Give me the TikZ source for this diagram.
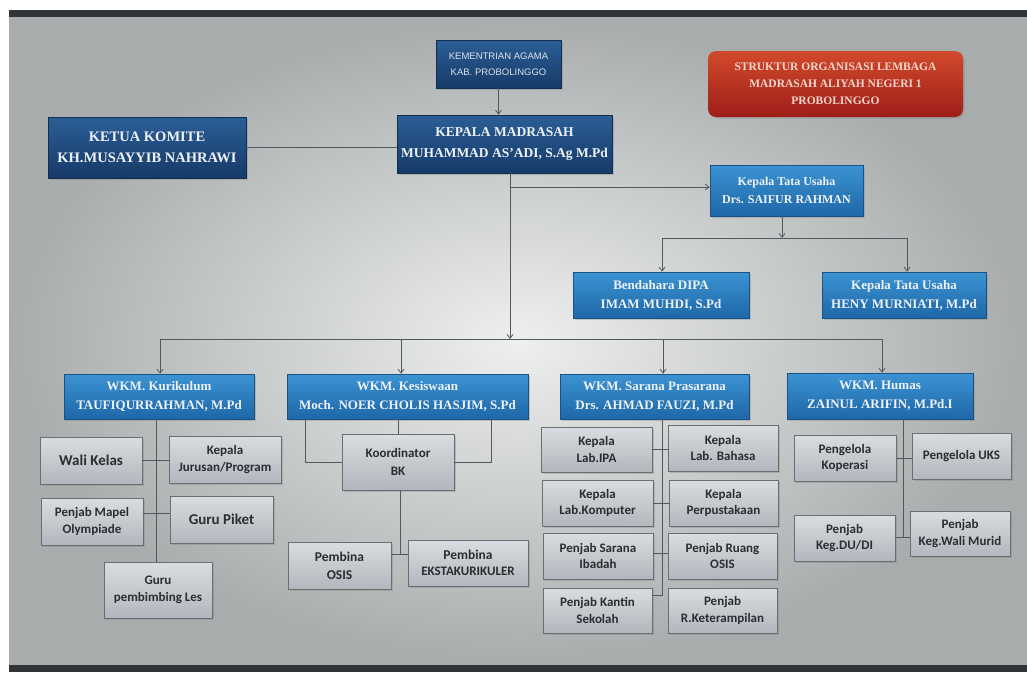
\documentclass[tikz,border=0pt]{standalone}
\usepackage{fontspec}
\setmainfont{Liberation Serif}
\newfontfamily\carl{Carlito}
\newfontfamily\lsans{Liberation Sans}
\usetikzlibrary{arrows.meta,shadows}
\definecolor{navyT}{HTML}{2B5E96}
\definecolor{navyB}{HTML}{163A68}
\definecolor{blueT}{HTML}{3C93D2}
\definecolor{blueB}{HTML}{1E67A8}
\definecolor{greyT}{HTML}{D9DCE0}
\definecolor{greyB}{HTML}{B3B7BD}
\definecolor{greyD}{HTML}{6A6E73}
\definecolor{redT}{HTML}{D24A2C}
\definecolor{redB}{HTML}{9E1E18}
\definecolor{lineC}{HTML}{54585C}
\definecolor{txtW}{HTML}{EEF2F7}
\definecolor{txtR}{HTML}{F2D6CC}
\definecolor{txtG}{HTML}{2A2E32}
\definecolor{bgIn}{HTML}{EEF0EF}
\definecolor{bgOut}{HTML}{A8ACAC}
\definecolor{frameC}{HTML}{303436}
\tikzset{
  boxbase/.style={inner sep=0pt, align=center,
    drop shadow={shadow xshift=1.5pt,shadow yshift=-1.5pt,opacity=.35}},
  navybox/.style={boxbase, top color=navyT, bottom color=navyB, draw=navyB!80!black, line width=.6pt,
    text=txtW, font=\bfseries\fontsize{14.5}{21}\selectfont},
  bluebox/.style={boxbase, top color=blueT, bottom color=blueB, draw=blueB!80!black, line width=.6pt,
    text=txtW, font=\bfseries\fontsize{13}{19}\selectfont},
  greybox/.style={boxbase, top color=greyT, bottom color=greyB, draw=greyD, line width=.8pt,
    text=txtG, font=\carl\bfseries\fontsize{13}{16.5}\selectfont},
  redbox/.style={boxbase, rounded corners=8pt, top color=redT, bottom color=redB, draw=none,
    text=txtR, font=\bfseries\fontsize{11.5}{17}\selectfont},
  conn/.style={draw=lineC, line width=.8pt},
  arr/.style={conn, -{Straight Barb[length=4pt,width=6pt]}},
}
\begin{document}
\begin{tikzpicture}[x=1pt,y=-1pt]
\useasboundingbox (0,0) rectangle (1027,672);
% background (photo of a screen)
\fill[white] (0,0) rectangle (1027,672);
\fill[frameC] (9,10) rectangle (1027,672);
\shade[inner color=bgIn, outer color=bgOut] (9,17) rectangle (1027,664);

% top level
\node[navybox, minimum width=125pt, minimum height=48pt, font=\lsans\fontsize{9.5}{16}\selectfont, text=txtW!85!gray]
  (kem) at (498.5,64) {KEMENTRIAN AGAMA\\KAB. PROBOLINGGO};
\node[redbox, minimum width=255pt, minimum height=66pt] (title) at (835.5,84)
  {STRUKTUR ORGANISASI LEMBAGA\\MADRASAH ALIYAH NEGERI 1\\PROBOLINGGO};
\node[navybox, minimum width=198pt, minimum height=61pt] (ketua) at (147,147.5)
  {KETUA KOMITE\\KH.MUSAYYIB NAHRAWI};
\node[navybox, minimum width=215pt, minimum height=58pt, font=\bfseries\fontsize{13.5}{21}\selectfont] (kepala) at (504.5,144)
  {KEPALA MADRASAH\\MUHAMMAD AS'ADI, S.Ag M.Pd};

% tata usaha
\node[bluebox, minimum width=153pt, minimum height=51pt, font=\bfseries\fontsize{12}{18}\selectfont] (tu) at (786.5,190.5)
  {Kepala Tata Usaha\\Drs. SAIFUR RAHMAN};
\node[bluebox, minimum width=176pt, minimum height=46pt] (bend) at (661,295)
  {Bendahara DIPA\\IMAM MUHDI, S.Pd};
\node[bluebox, minimum width=164pt, minimum height=46pt] (heny) at (904,295)
  {Kepala Tata Usaha\\HENY MURNIATI, M.Pd};

% WKM
\node[bluebox, minimum width=190pt, minimum height=45pt] (kur) at (159,396.5)
  {WKM. Kurikulum\\TAUFIQURRAHMAN, M.Pd};
\node[bluebox, minimum width=241pt, minimum height=45pt] (kes) at (407.5,396.5)
  {WKM. Kesiswaan\\Moch. NOER CHOLIS HASJIM, S.Pd};
\node[bluebox, minimum width=189pt, minimum height=45pt] (sar) at (654.5,396.5)
  {WKM. Sarana Prasarana\\Drs. AHMAD FAUZI, M.Pd};
\node[bluebox, minimum width=186pt, minimum height=46pt] (hum) at (880,396)
  {WKM. Humas\\ZAINUL ARIFIN, M.Pd.I};

% kurikulum group
\node[greybox, minimum width=102pt, minimum height=47pt, font=\carl\bfseries\fontsize{15}{16}\selectfont] (wali) at (91,460.5) {Wali Kelas};
\node[greybox, minimum width=112pt, minimum height=47pt] (kajur) at (225,459.5) {Kepala\\Jurusan/Program};
\node[greybox, minimum width=102pt, minimum height=47pt] (mapel) at (92,521.5) {Penjab Mapel\\Olympiade};
\node[greybox, minimum width=103pt, minimum height=47pt, font=\carl\bfseries\fontsize{15}{16}\selectfont] (piket) at (221.5,519.5) {Guru Piket};
\node[greybox, minimum width=108pt, minimum height=56pt] (les) at (158,590) {Guru\\pembimbing Les};

% kesiswaan group
\node[greybox, minimum width=112pt, minimum height=56pt, font=\carl\bfseries\fontsize{13}{18}\selectfont] (bk) at (398,462) {Koordinator\\BK};
\node[greybox, minimum width=103pt, minimum height=47pt, font=\carl\bfseries\fontsize{13.5}{18}\selectfont] (osis) at (339.5,565.5) {Pembina\\OSIS};
\node[greybox, minimum width=120pt, minimum height=46pt] (ekstra) at (468,563) {{\fontsize{13.5}{16}\selectfont Pembina}\\EKSTAKURIKULER};

% sarana group
\node[greybox, minimum width=111pt, minimum height=45pt] (ipa) at (596.5,449.5) {Kepala\\Lab.IPA};
\node[greybox, minimum width=110pt, minimum height=46pt] (bahasa) at (723,448) {Kepala\\Lab. Bahasa};
\node[greybox, minimum width=111pt, minimum height=46pt] (komp) at (597.5,503) {Kepala\\Lab.Komputer};
\node[greybox, minimum width=109pt, minimum height=46pt] (perpus) at (723.5,503) {Kepala\\Perpustakaan};
\node[greybox, minimum width=110pt, minimum height=46pt] (ibadah) at (598,556) {Penjab Sarana\\Ibadah};
\node[greybox, minimum width=109pt, minimum height=46pt] (rosis) at (722.5,556) {Penjab Ruang\\OSIS};
\node[greybox, minimum width=109pt, minimum height=45pt] (kantin) at (597.5,610.5) {Penjab Kantin\\Sekolah};
\node[greybox, minimum width=109pt, minimum height=45pt] (ketr) at (722.5,610.5) {Penjab\\R.Keterampilan};

% humas group
\node[greybox, minimum width=102pt, minimum height=46pt] (kop) at (845,458) {Pengelola\\Koperasi};
\node[greybox, minimum width=99pt, minimum height=46pt] (uks) at (961.5,456) {Pengelola UKS};
\node[greybox, minimum width=101pt, minimum height=46pt] (dudi) at (844.5,538) {Penjab\\Keg.DU/DI};
\node[greybox, minimum width=100pt, minimum height=45pt] (wmur) at (960,533.5) {Penjab\\Keg.Wali Murid};

% ---- connectors ----
\coordinate (mainx) at (510,339);
\coordinate (b1) at (160,339);
\coordinate (b2) at (401,339);
\coordinate (b3) at (663,339);
\coordinate (b4) at (882,339);
\coordinate (tbus) at (782,238);
\coordinate (t1) at (662,238);
\coordinate (t2) at (907,238);
\coordinate (tuY) at (510,187);

\draw[arr] (kem.south) -- (kem.south |- kepala.north);
\draw[conn] (ketua.east) -- (ketua.east -| kepala.west);
\draw[arr] (kepala.south -| mainx) -- (mainx);
\draw[arr] (tuY) -- (tuY -| tu.west);
\draw[conn] (b1) -- (b4);
\draw[arr] (b1) -- (b1 |- kur.north);
\draw[arr] (b2) -- (b2 |- kes.north);
\draw[arr] (b3) -- (b3 |- sar.north);
\draw[arr] (b4) -- (b4 |- hum.north);

\draw[arr] (tu.south -| tbus) -- (tbus);
\draw[conn] (t1) -- (t2);
\draw[arr] (t1) -- (t1 |- bend.north);
\draw[arr] (t2) -- (t2 |- heny.north);

% kurikulum
\coordinate (kx) at (156,0);
\draw[conn] (kur.south -| kx) -- (les.north -| kx);
\draw[conn] (wali.east) -- (wali.east -| kajur.west);
\draw[conn] (mapel.east |- 0,513) -- (piket.west |- 0,513);

% kesiswaan
\coordinate (kl) at (305,0);
\coordinate (kr) at (491,0);
\coordinate (ok) at (400,554);
\draw[conn] (kes.south -| kl) |- (bk.west);
\draw[conn] (kes.south -| kr) |- (bk.east);
\draw[conn] (kes.south -| bk.north) -- (bk.north);
\draw[conn] (bk.south -| ok) -- (ok);
\draw[conn] (osis.east |- ok) -- (ekstra.west |- ok);

% sarana
\coordinate (sb) at (662,595);
\draw[conn] (sar.south -| sb) -- (sb) -- (sb -| kantin.east);
\draw[conn] (ipa.east) -- (ipa.east -| bahasa.west);
\draw[conn] (komp.east) -- (komp.east -| perpus.west);
\draw[conn] (ibadah.east |- 0,553) -- (rosis.west |- 0,553);

% humas
\coordinate (hb) at (903,537);
\draw[conn] (hum.south -| hb) -- (hb);
\draw[conn] (kop.east) -- (kop.east -| uks.west);
\draw[conn] (dudi.east |- hb) -- (wmur.west |- hb);
\end{tikzpicture}
\end{document}
